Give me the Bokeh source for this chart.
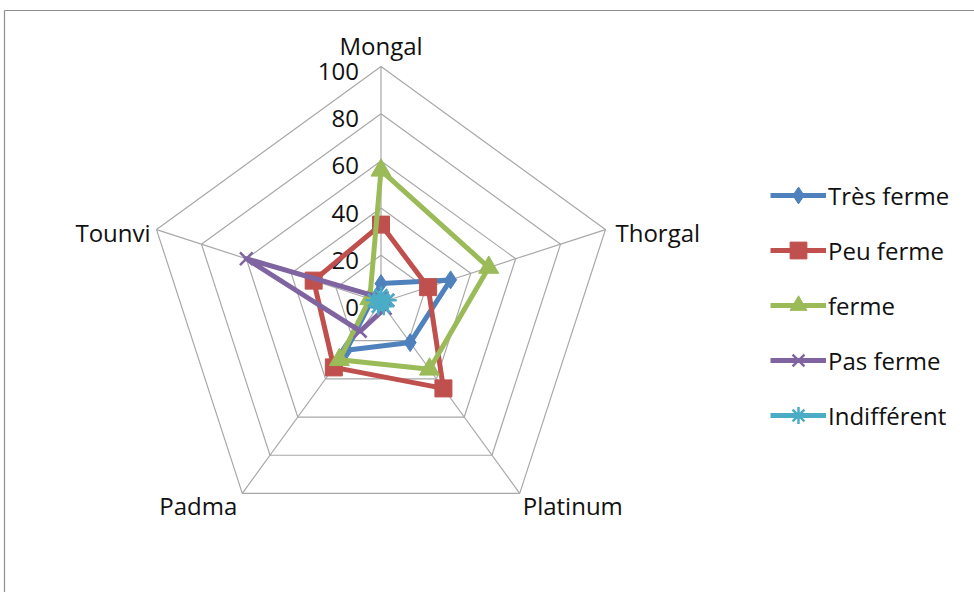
import math
from bokeh.plotting import figure
from bokeh.models import Range1d, Legend, LegendItem, ColumnDataSource
from bokeh.core.properties import value
from bokeh.embed import file_html
from bokeh.resources import INLINE

# --- data -------------------------------------------------------------
categories = ["Mongal", "Thorgal", "Platinum", "Padma", "Tounvi"]
tick_labels = ["0", "20", "40", "60", "80", "100"]
tick_values = [0, 20, 40, 60, 80, 100]

tres_ferme = [8, 31, 21, 25, 4]
peu_ferme = [33, 21, 45, 34, 30]
ferme = [56, 48, 35, 30, 5]
pas_ferme = [2, 3, 3, 15, 60]
indifferent = [3, 3, 2, 2, 3]

series_names = ["Très ferme", "Peu ferme", "ferme", "Pas ferme", "Indifférent"]
series_values = [tres_ferme, peu_ferme, ferme, pas_ferme, indifferent]

# --- styling ----------------------------------------------------------
colors = ["#4F81BD", "#C0504D", "#9BBB59", "#8064A2", "#4BACC6"]
markers = ["diamond", "square", "triangle", "x", "asterisk"]
marker_sizes = [18, 17, 20, 18, 18]
FONT = "Open Sans"
GRID = "#A8A8A8"

W, H = 974, 592
CX, CY = 380.5, 302.0      # centre of the web, in canvas pixels
SCALE = 2.36               # pixels per value unit

n = len(categories)
angles = [math.pi / 2 - 2 * math.pi * i / n for i in range(n)]


def polar(vals):
    xs = [v * math.cos(a) for v, a in zip(vals, angles)]
    ys = [v * math.sin(a) for v, a in zip(vals, angles)]
    return xs, ys


def px_x(x):
    return (x - CX) / SCALE


def px_y(y):
    return (CY - y) / SCALE


p = figure(width=W, height=H, output_backend="svg", toolbar_location=None,
           x_range=Range1d(px_x(0), px_x(W)), y_range=Range1d(px_y(H), px_y(0)),
           min_border=0, min_border_left=0, min_border_right=0,
           min_border_top=0, min_border_bottom=0)
p.axis.visible = False
p.grid.visible = False
p.outline_line_color = None
p.background_fill_color = "white"
p.border_fill_color = "white"

# chart area border (top and left edges)
p.segment(x0=[px_x(4), px_x(4)], y0=[px_y(10), px_y(10)],
          x1=[px_x(W + 10), px_x(4)], y1=[px_y(10), px_y(H + 10)],
          line_color="#8E8E8E", line_width=1.2)

# pentagon rings
for t in tick_values[1:]:
    xs, ys = polar([t] * n)
    p.line(xs + xs[:1], ys + ys[:1], line_color=GRID, line_width=1.2)

# spokes
sx, sy = polar([100] * n)
p.segment(x0=[0] * n, y0=[0] * n, x1=sx, y1=sy, line_color=GRID, line_width=1.2)

# scale labels along the Mongal spoke
p.text(x=[0] * len(tick_values), y=tick_values, text=tick_labels,
       text_font=value(FONT), text_font_size="24px", text_color="#111111",
       text_align="right", text_baseline="middle", x_offset=-22, y_offset=5)

# category labels around the web
cat_align = ["center", "left", "left", "right", "right"]
cat_xoff = [0, 10, 3, -5, -6]
cat_yoff = [-21, 3, 12, 12, 3]
for i, c in enumerate(categories):
    p.text(x=[sx[i]], y=[sy[i]], text=[c], text_font=value(FONT),
           text_font_size="24px", text_color="#111111", text_align=cat_align[i],
           text_baseline="middle", x_offset=cat_xoff[i], y_offset=cat_yoff[i])

# series
items = []
for name, vals, col, mk, ms in zip(series_names, series_values, colors, markers, marker_sizes):
    xs, ys = polar(vals)
    src = ColumnDataSource(dict(x=xs + xs[:1], y=ys + ys[:1]))
    lr = p.line("x", "y", source=src, line_color=col, line_width=5, line_join="round")
    msrc = ColumnDataSource(dict(x=xs, y=ys))
    lw = 2.5 if mk in ("x", "asterisk") else 1
    sr = p.scatter("x", "y", source=msrc, marker=mk, size=ms, fill_color=col,
                   line_color=col, line_width=lw)
    items.append(LegendItem(label=name, renderers=[lr, sr]))

legend = Legend(items=items, location=(770, 156))
legend.label_text_font = FONT
legend.label_text_font_size = "24px"
legend.label_text_color = "#111111"
legend.glyph_width = 56
legend.glyph_height = 42
legend.label_standoff = 2
legend.spacing = 13
legend.padding = 0
legend.margin = 0
legend.border_line_color = None
legend.background_fill_alpha = 0
p.add_layout(legend)

open("out.html", "w").write(file_html(p, INLINE))
